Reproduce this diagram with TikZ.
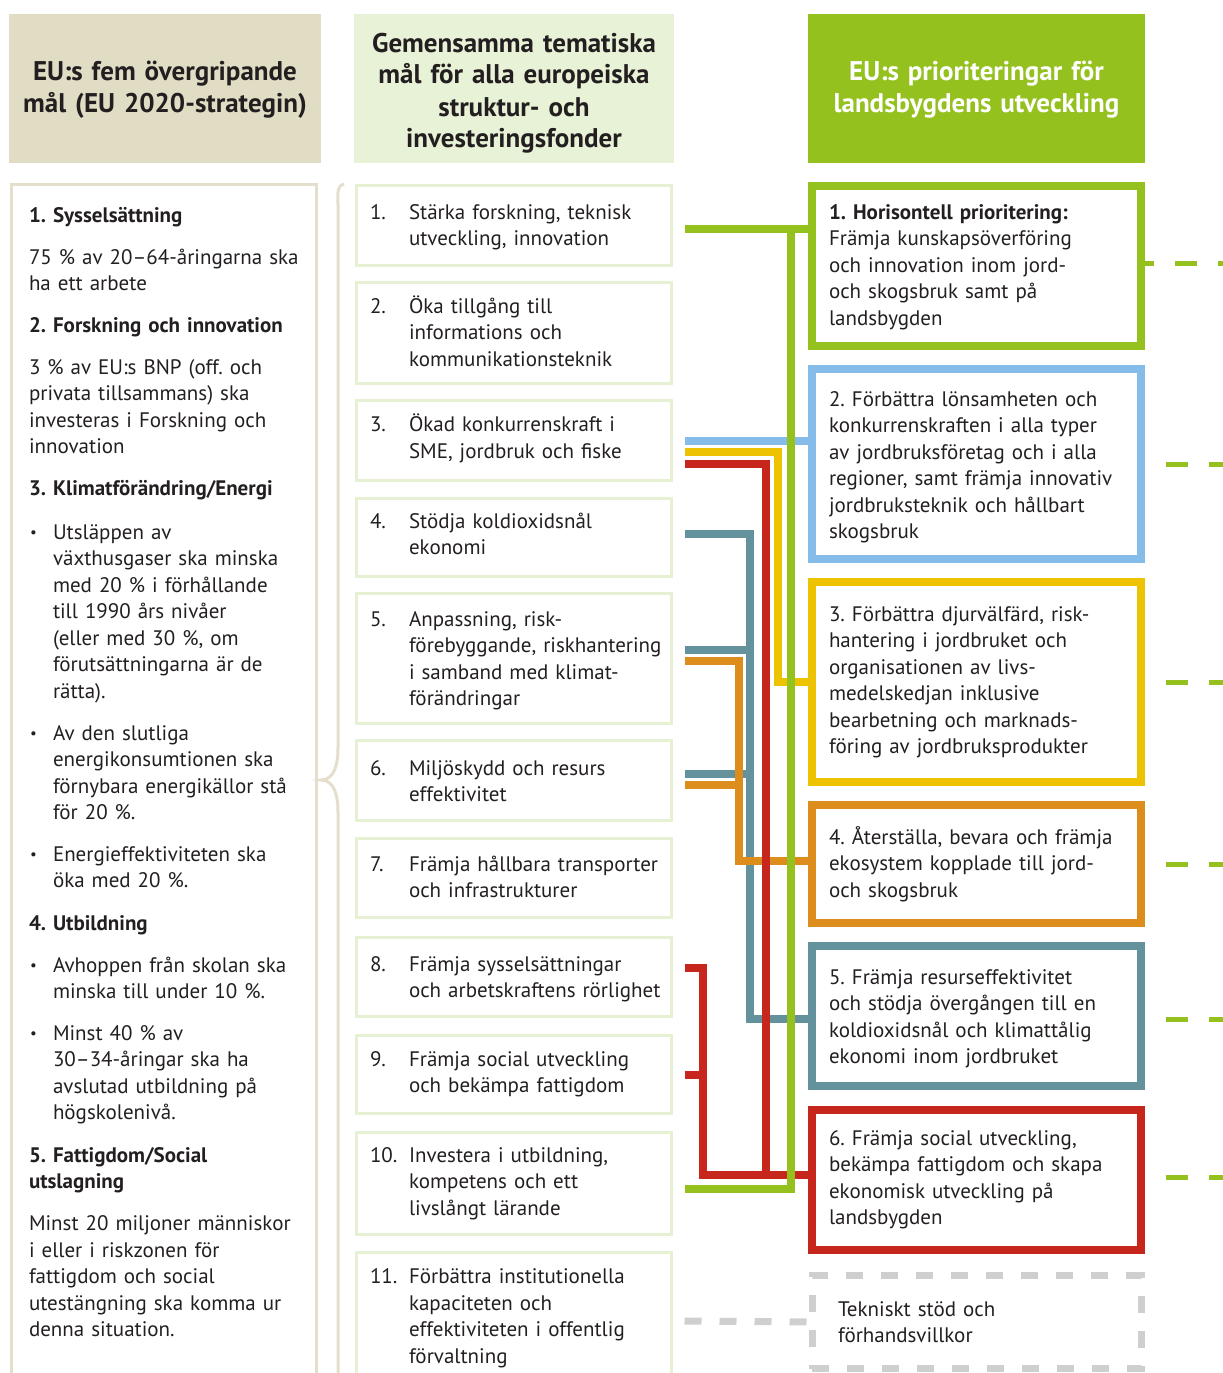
\documentclass[tikz,border=0pt]{standalone}
\usepackage{fontspec}
\setmainfont{PT Sans}
\usepackage{xcolor}
\definecolor{ink}{HTML}{231F20}
\definecolor{hdrL}{HTML}{E1DCC4}
\definecolor{hdrM}{HTML}{E8F2D6}
\definecolor{grn}{HTML}{95C11F}
\definecolor{lbord}{HTML}{E4DFCA}
\definecolor{mbord}{HTML}{E6F0D2}
\definecolor{blu}{HTML}{85BCE9}
\definecolor{yel}{HTML}{EDC200}
\definecolor{org}{HTML}{DD8D1B}
\definecolor{tea}{HTML}{63929C}
\definecolor{rd}{HTML}{C6261B}
\definecolor{gry}{HTML}{CFCFCF}
\frenchspacing

\begin{document}
\begin{tikzpicture}
  [x=1pt,y=-1pt,every node/.style={inner sep=0pt,outer sep=0pt},
   txt/.style={anchor=base west,text width=320pt,align=left,text=ink,
     font=\fontsize{21}{26.5}\selectfont},
   head/.style={anchor=base,text width=336pt,align=center,
     font=\fontsize{27}{32}\selectfont\bfseries},
   hbox/.style={rectangle,minimum height=149pt},
   goal/.style={rectangle,draw=mbord,line width=3pt,minimum width=315pt},
   prio/.style={rectangle,line width=8pt,minimum width=329pt},
   link/.style={line width=8pt},
   tail/.style={line width=5pt,draw=grn,dash pattern=on 22pt off 21pt,dash phase=22pt}]

  \useasboundingbox (0,0) rectangle (1223,1373);

  % headers
  \node[hbox,fill=hdrL,minimum width=312pt] (hl) at (165,88.5) {};
  \node[hbox,fill=hdrM,minimum width=320pt] (hm) at (514,88.5) {};
  \node[hbox,fill=grn,minimum width=337pt] (hr) at (976.5,88.5) {};
  \node[head,text=ink] (hlt) at (165,80) {EU:s fem övergripande\\mål (EU 2020-strategin)};
  \node[head,text=ink] (hmt) at (514,52) {Gemensamma tematiska\\mål för alla europeiska\\struktur- och\\investeringsfonder};
  \node[head,text=white] (hrt) at (976.5,80) {EU:s prioriteringar för\\landsbygdens utveckling};

  % EU 2020 column
  \node[rectangle,draw=lbord,line width=3pt,minimum width=305pt,minimum height=1214pt] (mal) at (164,791.5) {};
  \draw[lbord,line width=3pt] (344,184) to[out=195,in=90] (338,204) -- (338,748)
    to[out=-90,in=0] (321,780) to[out=0,in=90] (338,812) -- (338,1380);

  \node[txt] (sys) at (29,222) {\textbf{1. Sysselsättning}\\[15.5pt]75 \% av 20–64-åringarna ska\\ha ett arbete};
  \node[txt] (fou) at (29,332) {\textbf{2. Forskning och innovation}\\[15.5pt]3 \% av EU:s BNP (off. och\\privata tillsammans) ska\\investeras i Forskning och\\innovation};
  \node[txt] (klim) at (29,495) {\textbf{3. Klimatförändring/Energi}};
  \node[txt] (k1) at (53,539) {Utsläppen av\\växthusgaser ska minska\\med 20 \% i förhållande\\till 1990 års nivåer\\(eller med 30 \%, om\\förutsättningarna är de\\rätta).};
  \node[txt] (k2) at (53,740) {Av den slutliga\\energikonsumtionen ska\\förnybara energikällor stå\\för 20 \%.};
  \node[txt] (k3) at (53,861) {Energieffektiviteten ska\\öka med 20 \%.};
  \node[txt] (utb) at (29,930) {\textbf{4. Utbildning}};
  \node[txt] (u1) at (53,972) {Avhoppen från skolan ska\\minska till under 10 \%.};
  \node[txt] (u2) at (53,1040) {Minst 40 \% av\\30–34-åringar ska ha\\avslutad utbildning på\\högskolenivå.};
  \node[txt] (fat) at (29,1162) {\textbf{5. Fattigdom/Social}\\\textbf{utslagning}\\[15.5pt]Minst 20 miljoner människor\\i eller i riskzonen för\\fattigdom och social\\utestängning ska komma ur\\denna situation.};
  \foreach \y in {539,740,861,972,1040}
    \node[txt,font=\fontsize{15}{15}\selectfont] (dot\y) at (30,\y-2) {•};

  % thematic objectives
  \foreach \n/\y/\h in {1/225.5/80pt,2/333/101pt,3/440.5/80pt,4/537.5/78pt,5/658.5/130pt,6/780.5/80pt,
                        7/878/79pt,8/977/79pt,9/1074.5/78pt,10/1183.5/102pt,11/1321/137pt}
    \node[goal,minimum height=\h] (m\n) at (514,\y) {};

  \foreach \n/\y/\t in {1/219/{Stärka forskning, teknisk\\utveckling, innovation},
                        2/313/{Öka tillgång till\\informations och\\kommunikationsteknik},
                        3/431.5/{Ökad konkurrenskraft i\\SME, jordbruk och fiske},
                        4/528/{Stödja koldioxidsnål\\ekonomi},
                        5/626/{Anpassning, risk-\\förebyggande, riskhantering\\i samband med klimat-\\förändringar},
                        6/775/{Miljöskydd och resurs\\effektivitet},
                        7/871/{Främja hållbara transporter\\och infrastrukturer},
                        8/971/{Främja sysselsättningar\\och arbetskraftens rörlighet},
                        9/1066/{Främja social utveckling\\och bekämpa fattigdom},
                        10/1162/{Investera i utbildning,\\kompetens och ett\\livslångt lärande},
                        11/1283.5/{Förbättra institutionella\\kapaciteten och\\effektiviteten i offentlig\\förvaltning}}
  {
    \node[txt] (nr\n) at (370,\y) {\n.};
    \node[txt] (mt\n) at (409,\y) {\t};
  }

  % rural development priorities
  \node[prio,draw=grn,minimum height=160pt] (p1) at (976.5,266) {};
  \node[prio,draw=blu,minimum height=190pt] (p2) at (976.5,464) {};
  \node[prio,draw=yel,minimum height=200pt] (p3) at (976.5,682) {};
  \node[prio,draw=org,minimum height=118pt] (p4) at (976.5,864) {};
  \node[prio,draw=tea,minimum height=140pt] (p5) at (976.5,1016) {};
  \node[prio,draw=rd,minimum height=140pt] (p6) at (976.5,1180) {};
  \node[prio,draw=gry,line width=7pt,dash pattern=on 17pt off 18pt,minimum height=93pt] (tsb) at (976.5,1322) {};

  \node[txt] (pt1) at (829,219) {\textbf{1. Horisontell prioritering:}\\Främja kunskapsöverföring\\och innovation inom jord-\\och skogsbruk samt på\\landsbygden};
  \node[txt] (pt2) at (829,406) {2. Förbättra lönsamheten och\\konkurrenskraften i alla typer\\av jordbruksföretag och i alla\\regioner, samt främja innovativ\\jordbruksteknik och hållbart\\skogsbruk};
  \node[txt] (pt3) at (829,621) {3. Förbättra djurvälfärd, risk-\\hantering i jordbruket och\\organisationen av livs-\\medelskedjan inklusive\\bearbetning och marknads-\\föring av jordbruksprodukter};
  \node[txt] (pt4) at (829,844) {4. Återställa, bevara och främja\\ekosystem kopplade till jord-\\och skogsbruk};
  \node[txt] (pt5) at (829,984) {5. Främja resurseffektivitet\\och stödja övergången till en\\koldioxidsnål och klimattålig\\ekonomi inom jordbruket};
  \node[txt] (pt6) at (829,1145) {6. Främja social utveckling,\\bekämpa fattigdom och skapa\\ekonomisk utveckling på\\landsbygden};
  \node[txt] (tst) at (838,1316) {Tekniskt stöd och\\förhandsvillkor};

  % links
  \draw[link,tea] ([xshift=13pt,yshift=3.5pt]m4.east) -| ([xshift=-62pt,yshift=-3pt]p5.west) -- ([yshift=-3pt]p5.west);
  \foreach \n/\d in {5/8.5pt,6/6.5pt}
    \draw[link,tea] ([xshift=13pt,yshift=\d]m\n.east) -- ([xshift=82.5pt,yshift=\d]m\n.east);
  \draw[link,org] ([xshift=13pt,yshift=-2.5pt]m5.east) -| ([xshift=-73pt,yshift=3pt]p4.west) -- ([yshift=3pt]p4.west);
  \draw[link,org] ([xshift=13pt,yshift=-4.5pt]m6.east) -- ([xshift=71.5pt,yshift=-4.5pt]m6.east);
  \draw[link,rd] ([xshift=13pt,yshift=-23.5pt]m3.east) -| ([xshift=-46pt,yshift=5pt]p6.west) -- ([yshift=5pt]p6.west);
  \draw[link,rd] ([xshift=13pt,yshift=9pt]m8.east) -| ([xshift=-109pt,yshift=5pt]p6.west) -- ([yshift=5pt]p6.west);
  \draw[link,rd] ([xshift=13pt]m9.east) -- ([xshift=35.5pt]m9.east);
  \draw[link,yel] ([xshift=13pt,yshift=-11.5pt]m3.east) -| ([xshift=-34pt]p3.west) -- (p3.west);
  \draw[link,blu] ([xshift=13pt]m3.east) -- (p2.west |- m3.east);
  \draw[link,grn] ([xshift=13pt,yshift=-3.5pt]m1.east) -- ([yshift=37pt]p1.west);
  \draw[link,grn] ([xshift=13pt,yshift=-5.5pt]m10.east) -| ([xshift=-21pt,yshift=37pt]p1.west);
  \draw[line width=7pt,gry,dash pattern=on 17pt off 18pt] ([xshift=13pt]m11.east) -- (tsb.west);

  \draw[tail,dash phase=13pt] ([xshift=4pt,yshift=3pt]p1.east) -- ([xshift=82pt,yshift=3pt]p1.east);
  \foreach \n/\d in {2/0pt,3/0pt,4/0pt,5/-3pt,6/3pt}
    \draw[tail] ([xshift=4pt,yshift=\d]p\n.east) -- ([xshift=82pt,yshift=\d]p\n.east);
\end{tikzpicture}
\end{document}
